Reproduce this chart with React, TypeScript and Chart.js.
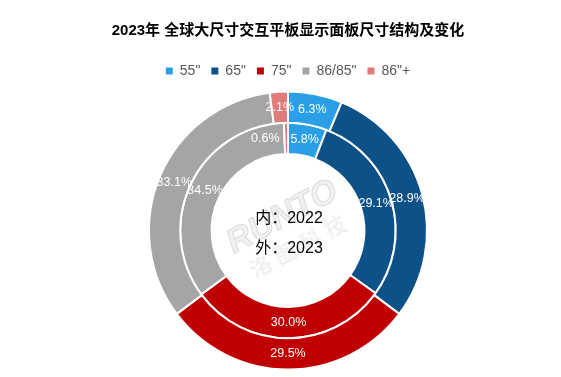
import React, { useEffect, useRef } from "react";
import { Chart, registerables } from "chart.js";

Chart.register(...registerables);

const categories = ['55"', '65"', '75"', '86/85"', '86"+'];
const values2023 = [6.3, 28.9, 29.5, 33.1, 2.1];
const values2022 = [5.8, 29.1, 30.0, 34.5, 0.6];
const colors = ["#2a9fe6", "#0d5189", "#c00000", "#a5a5a5", "#e07b79"];
const titleText = "2023年 全球大尺寸交互平板显示面板尺寸结构及变化";
const centerLines = ["内：2022", "外：2023"];
const watermarkLatin = "RUNTO";
const watermarkCjk = ["洛", "图", "科", "技"];

const FONT = '"Liberation Sans", Arial, "Noto Sans CJK SC", sans-serif';

const sliceLabels = {
  id: "sliceLabels",
  afterDatasetsDraw(chart: any, _args: any, opts: any) {
    const ctx = chart.ctx;
    ctx.save();
    ctx.font = `12.5px ${FONT}`;
    ctx.fillStyle = "#ffffff";
    ctx.textAlign = "center";
    ctx.textBaseline = "middle";
    chart.data.datasets.forEach((ds: any, di: number) => {
      const meta = chart.getDatasetMeta(di);
      meta.data.forEach((arc: any, i: number) => {
        const p = arc.tooltipPosition(false);
        const n = (opts.nudges && opts.nudges[`${di}-${i}`]) || [0, 0];
        ctx.fillText(Number(ds.data[i]).toFixed(1) + "%", p.x + n[0], p.y + n[1]);
      });
    });
    ctx.restore();
  },
};

const centerText = {
  id: "centerText",
  afterDraw(chart: any) {
    const meta = chart.getDatasetMeta(0);
    if (!meta.data.length) return;
    const { x, y } = meta.data[0];
    const ctx = chart.ctx;
    ctx.save();
    // watermark
    ctx.translate(x + 2, y + 1);
    ctx.rotate((-28 * Math.PI) / 180);
    ctx.strokeStyle = "rgba(200,200,200,0.6)";
    ctx.fillStyle = "rgba(225,225,225,0.45)";
    ctx.lineWidth = 1;
    ctx.textAlign = "center";
    ctx.textBaseline = "middle";
    ctx.font = `italic bold 34px ${FONT}`;
    ctx.fillText(watermarkLatin, 0, -16);
    ctx.strokeText(watermarkLatin, 0, -16);
    ctx.font = `bold 22px "Noto Sans CJK SC", sans-serif`;
    watermarkCjk.forEach((c, i) => {
      ctx.fillText(c, -42 + i * 28, 17);
    });
    ctx.restore();

    ctx.save();
    ctx.fillStyle = "#000000";
    ctx.textAlign = "center";
    ctx.textBaseline = "middle";
    ctx.font = `16px ${FONT}`;
    ctx.fillText(centerLines[0], x + 1, y - 12);
    ctx.fillText(centerLines[1], x + 1, y + 18);
    ctx.restore();
  },
};

export default function App() {
  const ref = useRef<HTMLCanvasElement | null>(null);

  useEffect(() => {
    document.body.style.margin = "0";
    if (!ref.current) return;
    Chart.defaults.font.family = FONT;
    const defaultGen = (Chart as any).overrides.doughnut.plugins.legend.labels.generateLabels;
    const chart = new Chart(ref.current, {
      type: "doughnut",
      data: {
        labels: categories,
        datasets: [
          {
            label: "2023",
            data: values2023,
            backgroundColor: colors,
            borderColor: "#ffffff",
            borderWidth: 2,
          },
          {
            label: "2022",
            data: values2022,
            backgroundColor: colors,
            borderColor: "#ffffff",
            borderWidth: 2,
          },
        ],
      },
      options: {
        animation: false,
        responsive: true,
        maintainAspectRatio: false,
        radius: 139,
        cutout: "55%",
        layout: { padding: { left: 15, right: 0, top: 0, bottom: 4 } },
        plugins: {
          title: {
            display: true,
            text: titleText,
            color: "#000000",
            font: { size: 15, weight: "bold", family: FONT },
            padding: { top: 22, bottom: 13 },
          },
          legend: {
            display: true,
            position: "top",
            labels: {
              color: "#595959",
              font: { size: 14, family: FONT },
              boxWidth: 7,
              boxHeight: 7,
              padding: 11,
              generateLabels: (c: any) =>
                defaultGen(c).map((l: any) => ({ ...l, lineWidth: 0 })),
            },
          },
          tooltip: { enabled: false },
          sliceLabels: { nudges: { "1-4": [-21, 0] } },
        } as any,
      } as any,
      plugins: [sliceLabels, centerText],
    });
    return () => chart.destroy();
  }, []);

  return (
    <div style={{ position: "relative", width: 561, height: 377, background: "#ffffff" }}>
      <canvas ref={ref} />
    </div>
  );
}
